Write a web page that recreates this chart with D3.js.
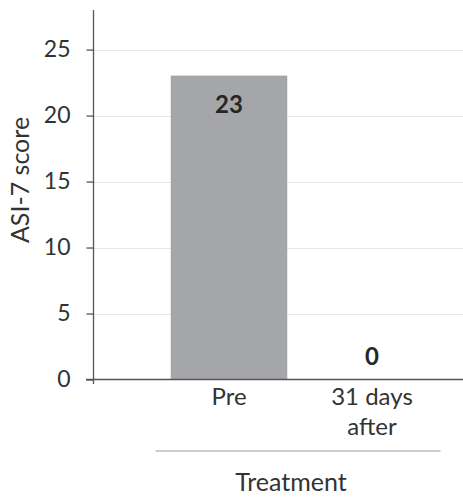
<!DOCTYPE html>
<html><head><meta charset="utf-8">
<script src="https://cdn.jsdelivr.net/npm/d3@7"></script>
<style>body{margin:0;background:#fff}svg{display:block}text{font-family:Lato,"Open Sans",sans-serif}</style>
</head><body>
<svg id="c" width="463" height="497"></svg>
<script>
const categories = [["Pre"], ["31 days", "after"]];
const values = [23, 0];
const yTicks = [0, 5, 10, 15, 20, 25];
const yLabel = "ASI-7 score";
const groupLabel = "Treatment";

const svg = d3.select("#c");
const y = d3.scaleLinear().domain([0, 28]).range([379.5, 10]);
const x = d3.scaleBand().domain(categories.map(c => c.join(" ")))
  .range([157.5, 443.5]).paddingInner(0.19).paddingOuter(0.095);
const axisX = 93.5;

// gridlines
svg.append("g").selectAll("line").data(yTicks.filter(t => t > 0)).join("line")
  .attr("x1", axisX).attr("x2", 463).attr("y1", d => Math.round(y(d)) + 0.5).attr("y2", d => Math.round(y(d)) + 0.5)
  .attr("stroke", "#e6e6e6").attr("stroke-width", 1.2);

// bars
svg.append("g").selectAll("rect").data(values).join("rect")
  .attr("x", (d, i) => x(categories[i].join(" ")))
  .attr("width", x.bandwidth())
  .attr("y", d => y(d)).attr("height", d => y(0) - y(d))
  .attr("fill", "#a5a6a9").attr("stroke", "#9a9b9e").attr("stroke-width", 0.6);

// value labels
svg.append("g").selectAll("text").data(values).join("text")
  .attr("x", (d, i) => x(categories[i].join(" ")) + x.bandwidth() / 2)
  .attr("y", d => d > 0 ? y(d) + 37.5 : y(d) - 14.5)
  .attr("text-anchor", "middle").attr("font-size", 24).attr("font-weight", "bold")
  .attr("fill", "#262626").text(d => d);

// y axis
const yAxis = d3.axisLeft(y).tickValues(yTicks).tickSize(7).tickPadding(16);
const gy = svg.append("g").attr("transform", `translate(${axisX},0)`).call(yAxis);
gy.select(".domain").attr("d", `M0,10V384`).attr("stroke", "#555").attr("stroke-width", 1.3);
gy.selectAll(".tick line").attr("stroke", "#555").attr("stroke-width", 1.3);
gy.selectAll(".tick text").attr("font-size", 23).attr("fill", "#333")
  .style("font-family", "Lato, 'Open Sans', sans-serif");

// x axis line
svg.append("line").attr("x1", 86).attr("x2", 463).attr("y1", y(0)).attr("y2", y(0))
  .attr("stroke", "#555").attr("stroke-width", 1.5);

// category labels
const cl = svg.append("g").selectAll("text").data(categories).join("text")
  .attr("text-anchor", "middle").attr("font-size", 24).attr("fill", "#333")
  .attr("transform", d => `translate(${x(d.join(" ")) + x.bandwidth() / 2},405)`);
cl.selectAll("tspan").data(d => d).join("tspan").attr("x", 0).attr("dy", (d, i) => i === 0 ? 0 : 30).text(d => d);

// group bracket
svg.append("line").attr("x1", x.range()[0] - 2).attr("x2", x.range()[1] - 3)
  .attr("y1", 451).attr("y2", 451).attr("stroke", "#999").attr("stroke-width", 1.2);
svg.append("text").attr("x", 291).attr("y", 491)
  .attr("text-anchor", "middle").attr("font-size", 25).attr("fill", "#333").text(groupLabel);

// y label
svg.append("text").attr("transform", "translate(29,180) rotate(-90)")
  .attr("text-anchor", "middle").attr("font-size", 25).attr("fill", "#333").text(yLabel);
</script>
</body></html>
